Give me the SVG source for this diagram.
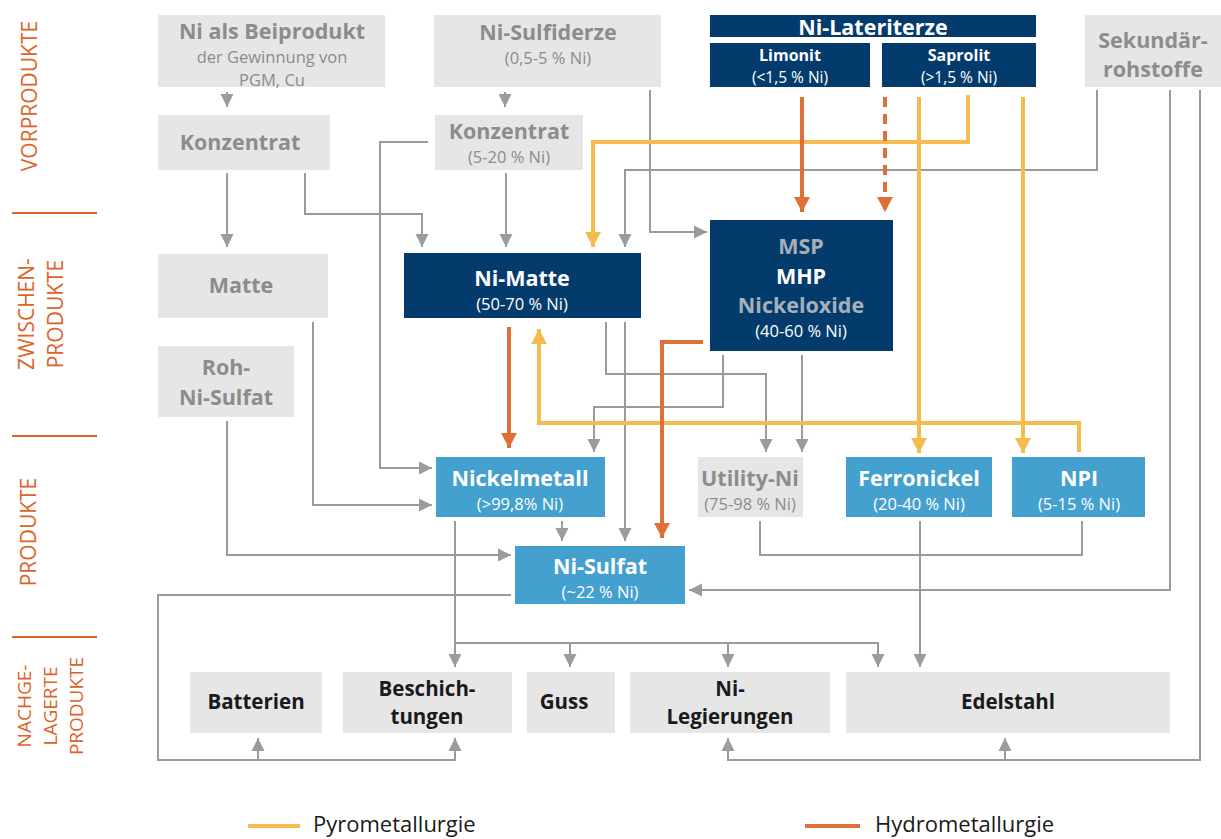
<svg xmlns="http://www.w3.org/2000/svg" width="1221" height="839" viewBox="0 0 1221 839">
<style>
text{font-family:"Open Sans","Noto Sans","DejaVu Sans",sans-serif;text-anchor:middle}
.bg{fill:#e6e6e6}
.nv{fill:#033c6c}
.lb{fill:#44a1cf}
.gb{fill:#8c8c8c;font-weight:700;font-size:21.5px}
.gr{fill:#8c8c8c;font-size:16.5px}
.wb{fill:#ffffff;font-weight:700;font-size:21.5px}
.wr{fill:#ffffff;font-size:16.5px}
.ws{fill:#ffffff;font-weight:700;font-size:16px}
.wt{fill:#ffffff;font-size:15.5px}
.mb{fill:#a7afb8;font-weight:700;font-size:21.5px}
.kb{fill:#1a1a1a;font-weight:700;font-size:20.5px}
.lab{fill:#dd6428;font-size:21px}
.lab2{fill:#dd6428;font-size:19px}
.leg{fill:#1a1a1a;font-size:22px;text-anchor:start}
.g{fill:none;stroke:#9b9b9b;stroke-width:2}
.o{fill:none;stroke:#df6f35;stroke-width:4}
.y{fill:none;stroke:#f4bb4e;stroke-width:4}
.sep{stroke:#dd6428;stroke-width:2}
</style>
<defs>
<marker id="ag" markerUnits="userSpaceOnUse" markerWidth="14" markerHeight="14" refX="13" refY="7" orient="auto"><path d="M0,0.5 L13,7 L0,13.5 z" fill="#9b9b9b"/></marker>
<marker id="ao" markerUnits="userSpaceOnUse" markerWidth="16" markerHeight="18" refX="15" refY="9" orient="auto"><path d="M0,1 L15,9 L0,17 z" fill="#df6f35"/></marker>
<marker id="ay" markerUnits="userSpaceOnUse" markerWidth="16" markerHeight="18" refX="15" refY="9" orient="auto"><path d="M0,1 L15,9 L0,17 z" fill="#f4bb4e"/></marker>
</defs>

<g id="labels">
<text class="lab" transform="translate(37,96) rotate(-90)">VORPRODUKTE</text>
<line class="sep" x1="12" y1="213" x2="97" y2="213"/>
<text class="lab" transform="translate(34,314) rotate(-90)">ZWISCHEN-</text>
<text class="lab" transform="translate(63,314) rotate(-90)">PRODUKTE</text>
<line class="sep" x1="12" y1="436" x2="97" y2="436"/>
<text class="lab" transform="translate(36,532) rotate(-90)">PRODUKTE</text>
<line class="sep" x1="12" y1="637" x2="97" y2="637"/>
<text class="lab2" transform="translate(31,706) rotate(-90)">NACHGE-</text>
<text class="lab2" transform="translate(57,706) rotate(-90)">LAGERTE</text>
<text class="lab2" transform="translate(83,706) rotate(-90)">PRODUKTE</text>
</g>

<g id="connectors">
<path class="g" marker-end="url(#ag)" d="M227,92 L227,107"/>
<path class="g" marker-end="url(#ag)" d="M505,92 L505,107"/>
<path class="g" marker-end="url(#ag)" d="M227,173 L227,247"/>
<path class="g" marker-end="url(#ag)" d="M305,173 L305,214 L422,214 L422,247"/>
<path class="g" marker-end="url(#ag)" d="M506,173 L506,247"/>
<path class="g" marker-end="url(#ag)" d="M428,142 L380,142 L380,468 L432,468"/>
<path class="g" marker-end="url(#ag)" d="M313,322 L313,505 L432,505"/>
<path class="g" marker-end="url(#ag)" d="M227,421 L227,555 L511,555"/>
<path class="g" marker-end="url(#ag)" d="M650,90 L650,232 L707,232"/>
<path class="g" marker-end="url(#ag)" d="M1097,90 L1097,170 L625,170 L625,247"/>
<path class="g" marker-end="url(#ag)" d="M1170,90 L1170,590 L689,590"/>
<path class="g" marker-end="url(#ag)" d="M1200,90 L1200,760 L728,760 L728,738"/>
<path class="g" marker-end="url(#ag)" d="M1005,760 L1005,738"/>
<path class="g" marker-end="url(#ag)" d="M511,595 L158,595 L158,760 L455,760 L455,738"/>
<path class="g" marker-end="url(#ag)" d="M258,760 L258,738"/>
<path class="g" marker-end="url(#ag)" d="M606,322 L606,374 L766,374 L766,452"/>
<path class="g" marker-end="url(#ag)" d="M625,322 L625,541"/>
<path class="g" marker-end="url(#ag)" d="M723,355 L723,407 L594,407 L594,452"/>
<path class="g" marker-end="url(#ag)" d="M802,355 L802,452"/>
<path class="g" marker-end="url(#ag)" d="M562,521 L562,541"/>
<path class="g" marker-end="url(#ag)" d="M455,521 L455,667"/>
<path class="g" marker-end="url(#ag)" d="M455,643 L878,643 L878,667"/>
<path class="g" marker-end="url(#ag)" d="M570,643 L570,667"/>
<path class="g" marker-end="url(#ag)" d="M728,643 L728,667"/>
<path class="g" marker-end="url(#ag)" d="M920,521 L920,667"/>
<path class="g" d="M760,521 L760,555 L1082,555 L1082,521"/>
<path class="y" marker-end="url(#ay)" d="M968,95 L968,142 L593,142 L593,247"/>
<path class="y" marker-end="url(#ay)" d="M919,97 L919,453"/>
<path class="y" marker-end="url(#ay)" d="M1023,97 L1023,453"/>
<path class="y" marker-end="url(#ay)" d="M1079,452 L1079,423 L539,423 L539,329"/>
<path class="o" marker-end="url(#ao)" d="M802,97 L802,212"/>
<path class="o" marker-end="url(#ao)" stroke-dasharray="10,7" d="M885,97 L885,212"/>
<path class="o" marker-end="url(#ao)" d="M509,327 L509,448"/>
<path class="o" marker-end="url(#ao)" d="M703,342 L662,342 L662,538"/>
</g>

<g id="beiprodukt"><rect class="bg" x="158" y="15" width="227" height="72"/>
<text class="gb" x="272" y="39">Ni als Beiprodukt</text>
<text class="gr" x="272" y="63">der Gewinnung von</text>
<text class="gr" x="272" y="85.5">PGM, Cu</text></g>

<g id="sulfiderze"><rect class="bg" x="434" y="15" width="227" height="72"/>
<text class="gb" x="548" y="40">Ni-Sulfiderze</text>
<text class="gr" x="548" y="64">(0,5-5 % Ni)</text></g>

<g id="lateriterze"><rect class="nv" x="710" y="15" width="326" height="22"/>
<text class="wb" x="873" y="34.5">Ni-Lateriterze</text></g>

<g id="limonit"><rect class="nv" x="710" y="43" width="160" height="44"/>
<text class="ws" x="790" y="61">Limonit</text>
<text class="wt" x="790" y="82.5">(&lt;1,5 % Ni)</text></g>

<g id="saprolit"><rect class="nv" x="882" y="43" width="154" height="44"/>
<text class="ws" x="959" y="61">Saprolit</text>
<text class="wt" x="959" y="82.5">(&gt;1,5 % Ni)</text></g>

<g id="sekundaer"><rect class="bg" x="1085" y="15" width="136" height="72"/>
<text class="gb" x="1153" y="47.5">Sekundär-</text>
<text class="gb" x="1153" y="77">rohstoffe</text></g>

<g id="konzentrat1"><rect class="bg" x="158" y="115" width="172" height="55"/>
<text class="gb" x="240" y="150">Konzentrat</text></g>

<g id="konzentrat2"><rect class="bg" x="435" y="115" width="148" height="55"/>
<text class="gb" x="509" y="139">Konzentrat</text>
<text class="gr" x="509" y="163">(5-20 % Ni)</text></g>

<g id="matte"><rect class="bg" x="158" y="254" width="170" height="64"/>
<text class="gb" x="241" y="293">Matte</text></g>

<g id="rohnisulfat"><rect class="bg" x="158" y="346" width="136" height="71"/>
<text class="gb" x="226" y="375">Roh-</text>
<text class="gb" x="226" y="405">Ni-Sulfat</text></g>

<g id="nimatte"><rect class="nv" x="404" y="253" width="237" height="65"/>
<text class="wb" x="522" y="286">Ni-Matte</text>
<text class="wr" x="522" y="310">(50-70 % Ni)</text></g>

<g id="msp"><rect class="nv" x="710" y="220" width="183" height="131"/>
<text class="mb" x="801" y="254">MSP</text>
<text class="wb" x="801" y="283.5">MHP</text>
<text class="mb" x="801" y="313">Nickeloxide</text>
<text class="wr" x="801" y="337">(40-60 % Ni)</text></g>

<g id="nickelmetall"><rect class="lb" x="436" y="457" width="169" height="60"/>
<text class="wb" x="520" y="486">Nickelmetall</text>
<text class="wr" x="520" y="510">(&gt;99,8% Ni)</text></g>

<g id="utility"><rect class="bg" x="698" y="457" width="105" height="60"/>
<text class="gb" x="750" y="486">Utility-Ni</text>
<text class="gr" x="750" y="510">(75-98 % Ni)</text></g>

<g id="ferronickel"><rect class="lb" x="846" y="457" width="146" height="60"/>
<text class="wb" x="919" y="486">Ferronickel</text>
<text class="wr" x="919" y="510">(20-40 % Ni)</text></g>

<g id="npi"><rect class="lb" x="1012" y="457" width="133" height="60"/>
<text class="wb" x="1079" y="486">NPI</text>
<text class="wr" x="1079" y="510">(5-15 % Ni)</text></g>

<g id="nisulfat"><rect class="lb" x="515" y="546" width="170" height="58"/>
<text class="wb" x="600" y="574">Ni-Sulfat</text>
<text class="wr" x="600" y="598">(~22 % Ni)</text></g>

<g id="batterien"><rect class="bg" x="190" y="672" width="132" height="61"/>
<text class="kb" x="256" y="709">Batterien</text></g>

<g id="beschichtungen"><rect class="bg" x="343" y="672" width="169" height="61"/>
<text class="kb" x="427" y="696">Beschich-</text>
<text class="kb" x="427" y="724">tungen</text></g>

<g id="guss"><rect class="bg" x="527" y="672" width="88" height="61"/>
<text class="kb" x="564" y="709">Guss</text></g>

<g id="legierungen"><rect class="bg" x="630" y="672" width="200" height="61"/>
<text class="kb" x="730" y="696">Ni-</text>
<text class="kb" x="730" y="724">Legierungen</text></g>

<g id="edelstahl"><rect class="bg" x="846" y="672" width="324" height="61"/>
<text class="kb" x="1008" y="709">Edelstahl</text></g>

<g id="legend">
<line x1="248" y1="826" x2="300" y2="826" stroke="#f4bb4e" stroke-width="4"/>
<text class="leg" x="313" y="832">Pyrometallurgie</text>
<line x1="805" y1="826" x2="860" y2="826" stroke="#df6f35" stroke-width="4"/>
<text class="leg" x="875" y="832">Hydrometallurgie</text>
</g>
</svg>
